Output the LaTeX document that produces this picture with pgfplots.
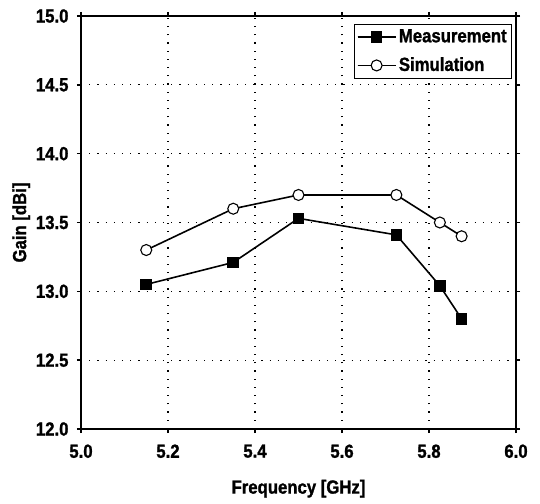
\documentclass[border=0pt]{standalone}
\usepackage{fontspec}
\setmainfont{Liberation Sans}[FakeStretch=0.88, BoldFeatures={FakeBold=1.2}]
\usepackage{pgfplots}
\pgfplotsset{compat=1.18}
\begin{document}
\fontsize{19bp}{22bp}\selectfont\bfseries
\begin{tikzpicture}
\begin{axis}[
  scale only axis,
  width=435bp, height=413bp,
  xmin=5.0, xmax=6.0, ymin=12.0, ymax=15.0,
  xtick={5.0,5.2,5.4,5.6,5.8,6.0},
  ytick={12.0,12.5,13.0,13.5,14.0,14.5,15.0},
  tick align=outside,
  major tick length=4bp,
  tick style={black, line width=1.4pt},
  axis line style={line width=1.8pt},
  grid=major,
  grid style={black, line width=1.1pt, dash pattern=on 1.2bp off 7bp},
  ticklabel style={font=\fontsize{19bp}{22bp}\selectfont\bfseries},
  xticklabel style={yshift=-5bp, /pgf/number format/.cd, fixed, fixed zerofill, precision=1, assume math mode=true},
  yticklabel style={xshift=-2bp, /pgf/number format/.cd, fixed, fixed zerofill, precision=1, assume math mode=true},
  xlabel={Frequency [GHz]},
  ylabel={Gain [dBi]},
  label style={font=\fontsize{19bp}{22bp}\selectfont\bfseries},
  xlabel style={yshift=-9bp},
  ylabel style={yshift=-7bp},
  legend style={at={(0.99,0.98)}, anchor=north east, draw=black, line width=0.9pt,
    font=\fontsize{19bp}{22bp}\selectfont\bfseries, inner sep=2bp, row sep=7bp,
    nodes={inner sep=2.5bp}},
  legend cell align=left,
  legend image code/.code={
    \draw[#1, line width=1.6pt] (0bp,0bp) -- (38bp,0bp);
    \draw[#1, line width=1.6pt, mark repeat=2, mark phase=2] plot coordinates {(0bp,0bp) (19bp,0bp) (38bp,0bp)};
  },
]
\addplot[black, line width=1.6pt, mark=square*, mark size=5bp, mark options={solid, fill=black}]
  coordinates {(5.15,13.05) (5.35,13.21) (5.5,13.53) (5.725,13.41) (5.825,13.04) (5.875,12.80)};
\addlegendentry{Measurement}
\addplot[black, line width=1.6pt, mark=*, mark size=5.5bp, mark options={solid, fill=white, line width=1.1pt}]
  coordinates {(5.15,13.30) (5.35,13.60) (5.5,13.70) (5.725,13.70) (5.825,13.50) (5.875,13.40)};
\addlegendentry{Simulation}
\end{axis}
\path ([shift={(-81bp,-73bp)}]current axis.south west) rectangle ([shift={(24bp,16bp)}]current axis.north east);
\end{tikzpicture}
\end{document}
